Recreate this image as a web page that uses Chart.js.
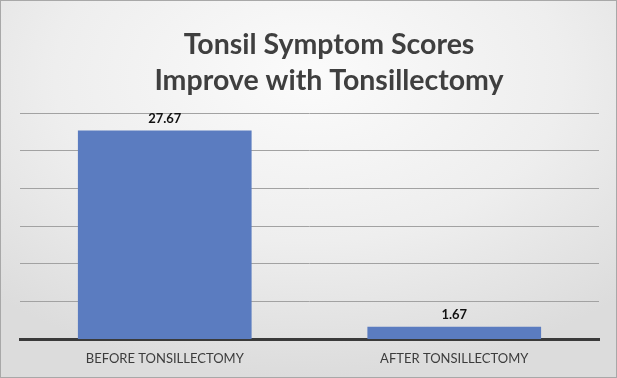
<!DOCTYPE html>
<html>
<head>
<meta charset="utf-8">
<script src="https://cdn.jsdelivr.net/npm/chart.js@4"></script>
<style>
  html, body { margin: 0; padding: 0; }
  #wrap {
    position: relative; width: 617px; height: 378px; box-sizing: border-box;
    border: 1px solid #a8a8a8;
    background: radial-gradient(ellipse 75% 80% at 50% 20%, #fbfbfb 0%, #eeeeee 55%, #dcdcdc 100%);
  }
  canvas { position: absolute; left: 0; top: 0; }
</style>
</head>
<body>
<div id="wrap"><canvas id="c" width="617" height="378"></canvas></div>
<script>
const titleLines = ["Tonsil Symptom Scores", "Improve with Tonsillectomy"];
const categories = ["BEFORE TONSILLECTOMY", "AFTER TONSILLECTOMY"];
const scores = [27.67, 1.67];
const yMin = 0, yMax = 30, yStep = 5;

const FONT = 'Lato, "Open Sans", sans-serif';

const valueLabels = {
  id: 'valueLabels',
  afterDatasetsDraw(chart) {
    const ctx = chart.ctx;
    const meta = chart.getDatasetMeta(0);
    ctx.save();
    ctx.font = 'bold 13px ' + FONT;
    ctx.fillStyle = '#111111';
    ctx.textAlign = 'center';
    ctx.textBaseline = 'bottom';
    meta.data.forEach((bar, i) => {
      ctx.fillText(scores[i].toFixed(2), bar.x, bar.y - 5);
    });
    ctx.restore();
  }
};

const titleDraw = {
  id: 'titleDraw',
  afterDraw(chart) {
    const ctx = chart.ctx;
    ctx.save();
    ctx.font = 'bold 28.5px ' + FONT;
    ctx.fillStyle = '#3f3f3f';
    ctx.textAlign = 'center';
    ctx.textBaseline = 'alphabetic';
    titleLines.forEach((t, i) => ctx.fillText(t, 328, 53 + i * 36));
    ctx.restore();
  }
};

new Chart(document.getElementById('c'), {
  type: 'bar',
  data: {
    labels: categories,
    datasets: [{
      data: scores,
      backgroundColor: '#5b7cc0',
      borderWidth: 0,
      categoryPercentage: 1.0,
      barPercentage: 0.6
    }]
  },
  options: {
    responsive: false,
    animation: false,
    devicePixelRatio: 1,
    layout: { padding: { left: 19, right: 19, top: 112, bottom: 0 } },
    plugins: {
      legend: { display: false },
      tooltip: { enabled: false },
      title: { display: false }
    },
    scales: {
      x: {
        grid: { display: false, drawTicks: false },
        border: { display: true, color: '#3a3a3a', width: 3 },
        ticks: { color: '#3c3c3c', font: { family: FONT, size: 13 }, padding: 12 }
      },
      y: {
        min: yMin, max: yMax,
        ticks: { display: false, stepSize: yStep },
        grid: { color: '#a2a2a2', lineWidth: 1, drawTicks: false },
        border: { display: false }
      }
    }
  },
  plugins: [valueLabels, titleDraw]
});
</script>
</body>
</html>
